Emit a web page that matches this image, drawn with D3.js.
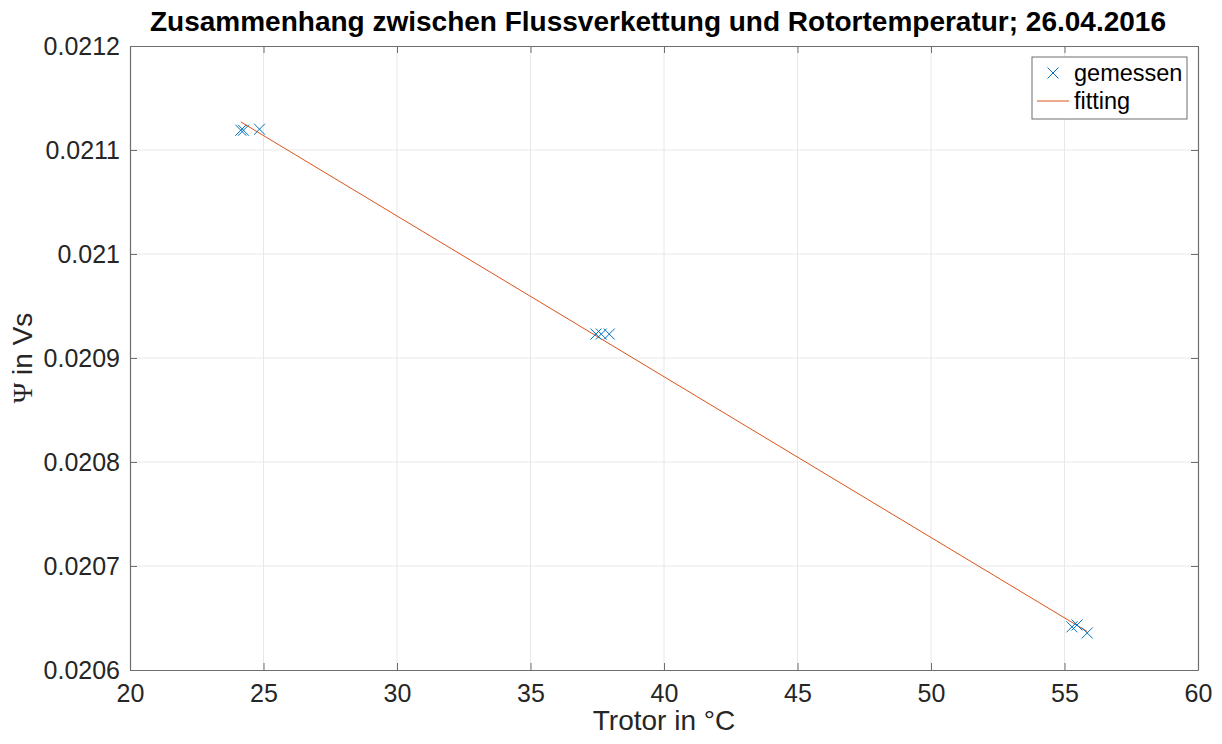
<!DOCTYPE html>
<html>
<head>
<meta charset="utf-8">
<script src="https://cdn.jsdelivr.net/npm/d3@7"></script>
<style>
  html, body { margin: 0; padding: 0; background: #fff; }
  svg { display: block; font-family: 'Liberation Sans', Arial, Helvetica, sans-serif; }
</style>
</head>
<body>
<div id="chart"></div>
<script>
// measured values (rotor temperature in °C, flux linkage in Vs)
const tempMeasured = [24.15, 24.25, 24.85, 37.45, 37.65, 37.95, 55.28, 55.47, 55.85];
const psiMeasured = [0.021119, 0.021119, 0.021120, 0.020923, 0.020923, 0.020923, 0.0206415, 0.0206433, 0.0206356];

// linear fit, start and end of the fitted line
const tempFit = [24.15, 55.85];
const psiFit = [0.021127, 0.020637];

// axis ticks
const xTicks = [20, 25, 30, 35, 40, 45, 50, 55, 60];
const yTicks = [0.0206, 0.0207, 0.0208, 0.0209, 0.021, 0.0211, 0.0212];

const legendLabels = ['gemessen', 'fitting'];

const W = 1222, H = 744;
const margin = { top: 46, right: 24, bottom: 74, left: 130 };
const innerW = W - margin.left - margin.right;
const innerH = H - margin.top - margin.bottom;

const COL_TXT = '#262626';
const COL_AX = '#6e6e6e';
const COL_BLUE = '#0072BD';
const COL_ORANGE = '#D95319';

const svg = d3.select('#chart')
  .append('svg')
  .attr('width', W)
  .attr('height', H);

const x = d3.scaleLinear().domain([20, 60]).range([0, innerW]);
const y = d3.scaleLinear().domain([0.0206, 0.0212]).range([innerH, 0]);

const g = svg.append('g')
  .attr('transform', `translate(${margin.left},${margin.top})`);

// grid lines
g.append('g')
  .selectAll('line.gx')
  .data(xTicks.slice(1, -1))
  .join('line')
  .attr('x1', d => x(d)).attr('x2', d => x(d))
  .attr('y1', 0).attr('y2', innerH)
  .attr('stroke', '#e8e8e8')
  .attr('stroke-width', 1);

g.append('g')
  .selectAll('line.gy')
  .data(yTicks.slice(1, -1))
  .join('line')
  .attr('x1', 0).attr('x2', innerW)
  .attr('y1', d => y(d)).attr('y2', d => y(d))
  .attr('stroke', '#e8e8e8')
  .attr('stroke-width', 1);

// axes (ticks pointing inward like MATLAB)
const xAxis = d3.axisBottom(x).tickValues(xTicks).tickSizeInner(-7).tickSizeOuter(0).tickPadding(14).tickFormat(d3.format('d'));
const yAxis = d3.axisLeft(y).tickValues(yTicks).tickSizeInner(-7).tickSizeOuter(0).tickPadding(10).tickFormat(d => d3.format('.4~f')(d));

const gx = g.append('g').attr('transform', `translate(0,${innerH})`).call(xAxis);
const gy = g.append('g').call(yAxis);

const gxTop = g.append('g').call(d3.axisTop(x).tickValues(xTicks).tickSizeInner(-7).tickSizeOuter(0).tickFormat(''));
const gyRight = g.append('g').attr('transform', `translate(${innerW},0)`)
  .call(d3.axisRight(y).tickValues(yTicks).tickSizeInner(-7).tickSizeOuter(0).tickFormat(''));

[gx, gy, gxTop, gyRight].forEach(a => {
  a.select('.domain').attr('stroke', COL_AX).attr('stroke-width', 1.2);
  a.selectAll('.tick line').attr('stroke', COL_AX).attr('stroke-width', 1);
  a.selectAll('.tick text')
    .attr('fill', COL_TXT)
    .attr('font-size', '25px')
    .attr('font-family', "'Liberation Sans', Arial, sans-serif");
});
gx.selectAll('.tick text').attr('dy', '0.71em');

// fitted line
const line = d3.line().x(d => x(d[0])).y(d => y(d[1]));
g.append('path')
  .datum(d3.zip(tempFit, psiFit))
  .attr('d', line)
  .attr('fill', 'none')
  .attr('stroke', COL_ORANGE)
  .attr('stroke-width', 1);

// measured points as x markers
const mk = 5.5;
const crossPath = `M${-mk},${-mk}L${mk},${mk}M${-mk},${mk}L${mk},${-mk}`;
g.append('g')
  .selectAll('path')
  .data(d3.zip(tempMeasured, psiMeasured))
  .join('path')
  .attr('transform', d => `translate(${x(d[0])},${y(d[1])})`)
  .attr('d', crossPath)
  .attr('fill', 'none')
  .attr('stroke', COL_BLUE)
  .attr('stroke-width', 1);

// title
svg.append('text')
  .attr('x', 658)
  .attr('y', 31)
  .attr('text-anchor', 'middle')
  .attr('font-size', '28px')
  .attr('font-weight', 'bold')
  .attr('fill', '#000')
  .text('Zusammenhang zwischen Flussverkettung und Rotortemperatur; 26.04.2016');

// x label
svg.append('text')
  .attr('x', margin.left + innerW / 2)
  .attr('y', 730)
  .attr('text-anchor', 'middle')
  .attr('font-size', '28px')
  .attr('fill', COL_TXT)
  .text('Trotor in °C');

// y label
const yl = svg.append('text')
  .attr('transform', `translate(32,${margin.top + innerH / 2}) rotate(-90)`)
  .attr('text-anchor', 'middle')
  .attr('font-size', '28px')
  .attr('fill', COL_TXT);
yl.append('tspan').attr('font-family', "'Liberation Serif', 'DejaVu Serif', serif").text('Ψ');
yl.append('tspan').text(' in Vs');

// legend
const lg = svg.append('g').attr('transform', 'translate(1032,57)');
lg.append('rect')
  .attr('width', 155).attr('height', 62)
  .attr('fill', '#fff')
  .attr('stroke', COL_AX)
  .attr('stroke-width', 1);

const entries = lg.selectAll('g.entry')
  .data(legendLabels)
  .join('g')
  .attr('class', 'entry')
  .attr('transform', (d, i) => `translate(0,${16 + i * 28})`);

entries.each(function(d, i) {
  const e = d3.select(this);
  if (i === 0) {
    e.append('path')
      .attr('transform', 'translate(21,0)')
      .attr('d', crossPath)
      .attr('fill', 'none')
      .attr('stroke', COL_BLUE)
      .attr('stroke-width', 1);
  } else {
    e.append('line')
      .attr('x1', 5).attr('x2', 37)
      .attr('stroke', COL_ORANGE)
      .attr('stroke-width', 1);
  }
  e.append('text')
    .attr('x', 42)
    .attr('dy', '0.35em')
    .attr('font-size', '23.5px')
    .attr('fill', '#000')
    .text(d);
});
</script>
</body>
</html>
